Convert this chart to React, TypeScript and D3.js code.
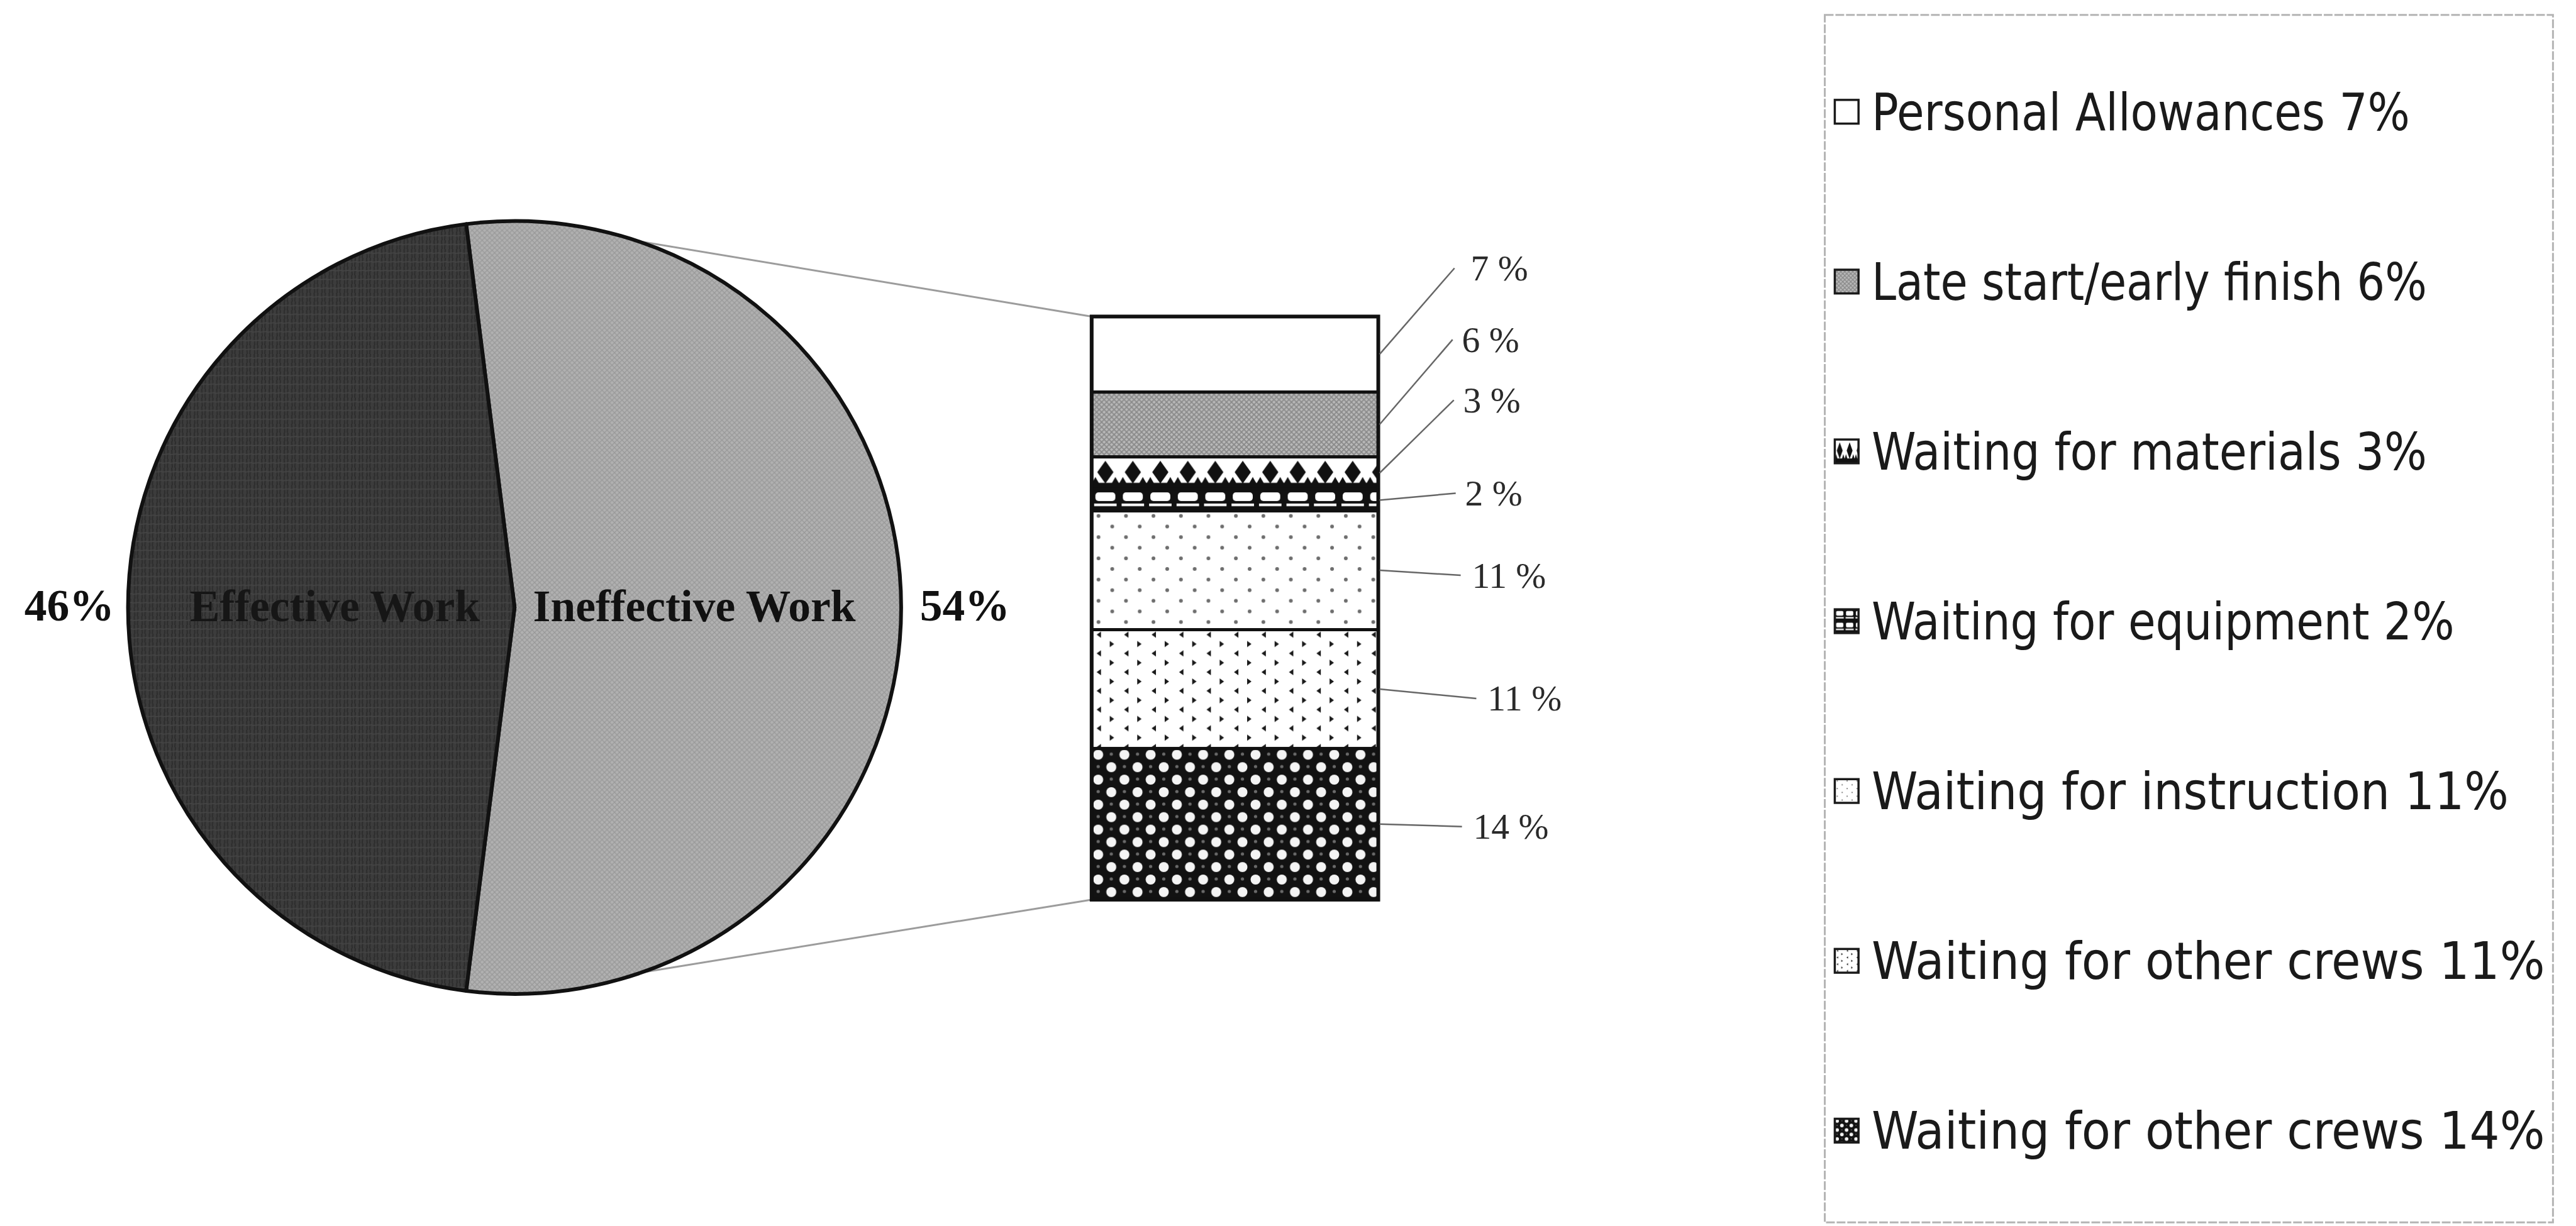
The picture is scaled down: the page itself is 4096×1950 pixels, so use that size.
import React from "react";
import * as d3 from "d3";

// ---------- data ----------
const pieCategories = ["Ineffective Work", "Effective Work"];
const pieValues = [54, 46];
const pieLabels = ["54%", "46%"];

const barCategories = [
  "Personal Allowances",
  "Late start/early finish",
  "Waiting for materials",
  "Waiting for equipment",
  "Waiting for instruction",
  "Waiting for other crews",
  "Waiting for other crews",
];
const barValues = [7, 6, 3, 2, 11, 11, 14];
const barLabels = ["7 %", "6 %", "3 %", "2 %", "11 %", "11 %", "14 %"];
const legendLabels = [
  "Personal Allowances 7%",
  "Late start/early finish 6%",
  "Waiting for materials 3%",
  "Waiting for equipment 2%",
  "Waiting for instruction 11%",
  "Waiting for other crews 11%",
  "Waiting for other crews 14%",
];
const fillKinds = ["white", "gray", "diamond", "brick", "dots", "chevron", "balls"];

// ---------- layout (reference pixels) ----------
const S = 0.993;
const CX = 824, CY = 973, R = 619;
const BAR_L = 1748, BAR_R = 2207, BAR_T = 507, BAR_B = 1441;
const labelDy = [-138, -136, -117, -11, 8, 15, 4];
const labelGap = [148, 134, 136, 139, 150, 175, 152];
const lineGap = [26, 15, 15, 15, 18, 18, 18];
const connectorAngles = [18.5, 160.8];
const LEG = { x: 2922, y: 24, w: 1166, h: 1934 };
const legendY0 = 179, legendStep = 272;
const iconX = 2938, iconSize = 38, legendTextX = 2997;
const legendWidths = [862, 889, 889, 933, 1020, 1078, 1078];

type Tile = { w: number; h: number; body: React.ReactNode };

function tile(kind: string, segH?: number): Tile {
  switch (kind) {
    case "gray":
      return {
        w: 8, h: 8,
        body: (
          <>
            <rect width={8} height={8} fill="#b9b9b9" />
            <path d="M0,0L8,8M8,0L0,8" stroke="#878787" strokeWidth={1.6} />
          </>
        ),
      };
    case "diamond": {
      const h = segH ?? 52;
      return {
        w: 44, h,
        body: (
          <>
            <rect width={44} height={h} fill="#fff" />
            <polygon points={`22,${h * 0.12} 35,${h * 0.47} 22,${h * 0.82} 9,${h * 0.47}`} fill="#111" />
            <rect y={h * 0.8} width={44} height={h * 0.2} fill="#111" />
            <polygon points={`0,${h * 0.82} 6,${h * 0.62} 12,${h * 0.82}`} fill="#111" />
            <polygon points={`32,${h * 0.82} 38,${h * 0.62} 44,${h * 0.82}`} fill="#111" />
          </>
        ),
      };
    }
    case "brick": {
      const h = segH ?? 35;
      return {
        w: 44, h,
        body: (
          <>
            <rect width={44} height={h} fill="#111" />
            <rect x={6} y={h * 0.14} width={32} height={h * 0.4} rx={5} fill="#fff" />
            <rect x={4} y={h * 0.66} width={36} height={h * 0.12} fill="#fff" />
          </>
        ),
      };
    }
    case "dots":
      return {
        w: 44, h: 34,
        body: (
          <>
            <rect width={44} height={34} fill="#fff" />
            <circle cx={11} cy={8} r={3} fill="#6d6d6d" />
            <circle cx={33} cy={25} r={3} fill="#6d6d6d" />
          </>
        ),
      };
    case "chevron":
      return {
        w: 44, h: 30,
        body: (
          <>
            <rect width={44} height={30} fill="#fff" />
            <polygon points="15,3 8,8 15,13" fill="#1a1a1a" />
            <polygon points="29,18 36,23 29,28" fill="#1a1a1a" />
          </>
        ),
      };
    case "balls":
      return {
        w: 42, h: 40,
        body: (
          <>
            <rect width={42} height={40} fill="#121212" />
            <circle cx={10.5} cy={10} r={8} fill="#f4f4f4" />
            <circle cx={31.5} cy={30} r={8} fill="#f4f4f4" />
            <circle cx={31.5} cy={9} r={2.6} fill="#6a6a6a" />
            <circle cx={10.5} cy={29} r={2.6} fill="#6a6a6a" />
          </>
        ),
      };
    case "pieLight":
      return {
        w: 8, h: 8,
        body: (
          <>
            <rect width={8} height={8} fill="#b1b1b1" />
            <path d="M0,0L8,8M8,0L0,8" stroke="#999" strokeWidth={1.3} />
          </>
        ),
      };
    case "pieDark":
      return {
        w: 12, h: 14,
        body: (
          <>
            <rect width={12} height={14} fill="#3c3c3c" />
            <path d="M3,0L4,14M9,0L8,14" stroke="#2c2c2c" strokeWidth={2} />
            <path d="M0,7L12,6" stroke="#464646" strokeWidth={1.5} />
          </>
        ),
      };
    default:
      return { w: 10, h: 10, body: <rect width={10} height={10} fill="#fff" /> };
  }
}

function Pattern({ id, kind, ox, oy, s = 1, segH }: { id: string; kind: string; ox: number; oy: number; s?: number; segH?: number }) {
  const t = tile(kind, segH);
  return (
    <pattern
      id={id}
      patternUnits="userSpaceOnUse"
      width={t.w}
      height={t.h}
      patternTransform={`translate(${ox},${oy}) scale(${s})`}
    >
      {t.body}
    </pattern>
  );
}

export default function App() {
  const total = d3.sum(pieValues);
  const a0 = (pieValues[0] / total) * Math.PI * 2;
  const start = Math.PI / 2 - a0 / 2;
  const pieGen = d3.pie<number>().sort(null).startAngle(start).endAngle(start + Math.PI * 2);
  const arcs = pieGen(pieValues);
  const arcGen = d3.arc<d3.PieArcDatum<number>>().innerRadius(0).outerRadius(R);
  const innerLabelArc = d3.arc<d3.PieArcDatum<number>>().innerRadius(R * 0.465).outerRadius(R * 0.465);
  const outerLabelArc = d3.arc<d3.PieArcDatum<number>>().innerRadius(R + 30).outerRadius(R + 30);

  const yScale = d3.scaleLinear().domain([0, d3.sum(barValues)]).range([BAR_T, BAR_B]);
  const cum = Array.from(d3.cumsum(barValues));
  const starts = [0, ...cum.slice(0, -1)];

  const segs = barValues.map((v, i) => {
    const y0 = yScale(starts[i]);
    const y1 = yScale(starts[i] + v);
    return { v, i, y0, y1, mid: (y0 + y1) / 2, kind: fillKinds[i], name: barCategories[i] };
  });

  const conn = connectorAngles.map((deg) => {
    const a = (deg * Math.PI) / 180;
    return [CX + R * Math.sin(a), CY - R * Math.cos(a)];
  });

  const pieFill = ["url(#pieLight)", "url(#pieDark)"];
  const pieTextColor = ["#111", "#161616"];

  return (
    <svg
      width={4096}
      height={1950}
      style={{ position: "absolute", left: 0, top: 0, display: "block", background: "#fff" }}
    >
      <defs>
        <Pattern id="pieLight" kind="pieLight" ox={0} oy={0} />
        <Pattern id="pieDark" kind="pieDark" ox={0} oy={0} />
        {segs.map((s) => (
          <Pattern key={s.i} id={`seg${s.i}`} kind={s.kind} ox={BAR_L} oy={s.y0} segH={s.y1 - s.y0} />
        ))}
        {fillKinds.map((k, i) => (
          <Pattern
            key={i}
            id={`icon${i}`}
            kind={k}
            ox={iconX}
            oy={legendY0 + legendStep * i - iconSize / 2}
            s={k === "gray" ? 0.8 : 0.36}
            segH={k === "diamond" ? 105 : k === "brick" ? 52 : undefined}
          />
        ))}
      </defs>
      <g transform={`scale(${S})`}>
        <rect x={0} y={0} width={4122} height={1962} fill="#fff" />

        {/* connector lines */}
        <line x1={conn[0][0]} y1={conn[0][1]} x2={BAR_L} y2={BAR_T} stroke="#9c9c9c" strokeWidth={3} />
        <line x1={conn[1][0]} y1={conn[1][1]} x2={BAR_L} y2={BAR_B} stroke="#9c9c9c" strokeWidth={3} />

        {/* pie */}
        <g transform={`translate(${CX},${CY})`}>
          {arcs.map((a, i) => (
            <path key={i} d={arcGen(a) || ""} fill={pieFill[i]} stroke="#111" strokeWidth={6} strokeLinejoin="round" />
          ))}
          {arcs.map((a, i) => {
            const [x, y] = innerLabelArc.centroid(a);
            return (
              <text
                key={`n${i}`}
                x={x}
                y={y}
                dy="0.31em"
                textAnchor="middle"
                fontFamily="'Liberation Serif', 'Times New Roman', serif"
                fontWeight="bold"
                fontSize={72}
                fill={pieTextColor[i]}
              >
                {pieCategories[i]}
              </text>
            );
          })}
          {arcs.map((a, i) => {
            const [x, y] = outerLabelArc.centroid(a);
            return (
              <text
                key={`p${i}`}
                x={x > 0 ? x : x + 8}
                y={y}
                dy="0.29em"
                textAnchor={x > 0 ? "start" : "end"}
                fontFamily="'Liberation Serif', 'Times New Roman', serif"
                fontWeight="bold"
                fontSize={72}
                fill="#111"
              >
                {pieLabels[i]}
              </text>
            );
          })}
        </g>

        {/* stacked bar */}
        {segs.map((s) => (
          <rect
            key={s.i}
            x={BAR_L}
            y={s.y0}
            width={BAR_R - BAR_L}
            height={s.y1 - s.y0}
            fill={`url(#seg${s.i})`}
            stroke="#111"
            strokeWidth={5}
          />
        ))}
        <rect x={BAR_L} y={BAR_T} width={BAR_R - BAR_L} height={BAR_B - BAR_T} fill="none" stroke="#111" strokeWidth={6} />

        {/* leader lines and labels */}
        {segs.map((s) => {
          const lx = BAR_R + labelGap[s.i];
          const ly = s.mid + labelDy[s.i];
          return (
            <g key={`l${s.i}`}>
              <line x1={BAR_R + 2} y1={s.mid} x2={lx - lineGap[s.i]} y2={ly} stroke="#666" strokeWidth={2.5} />
              <text
                x={lx}
                y={ly}
                dy="0.34em"
                fontFamily="'Liberation Serif', 'Times New Roman', serif"
                fontSize={58}
                fill="#2a2a2a"
              >
                {barLabels[s.i]}
              </text>
            </g>
          );
        })}

        {/* legend */}
        <rect x={LEG.x} y={LEG.y} width={LEG.w} height={LEG.h} fill="#fff" stroke="#b4b4b4" strokeWidth={3} strokeDasharray="14 3" />
        {legendLabels.map((lab, i) => {
          const cy = legendY0 + legendStep * i;
          return (
            <g key={`g${i}`}>
              <rect
                x={iconX}
                y={cy - iconSize / 2}
                width={iconSize}
                height={iconSize}
                fill={fillKinds[i] === "white" ? "#fff" : `url(#icon${i})`}
                stroke="#1a1a1a"
                strokeWidth={3.5}
              />
              <text
                x={legendTextX}
                y={cy + 29}
                fontFamily="'Liberation Sans Narrow', 'DejaVu Sans Condensed', 'Liberation Sans', sans-serif"
                fontSize={82}
                fill="#1a1a1a"
                textLength={legendWidths[i]}
                lengthAdjust="spacingAndGlyphs"
              >
                {lab}
              </text>
            </g>
          );
        })}
      </g>
    </svg>
  );
}
